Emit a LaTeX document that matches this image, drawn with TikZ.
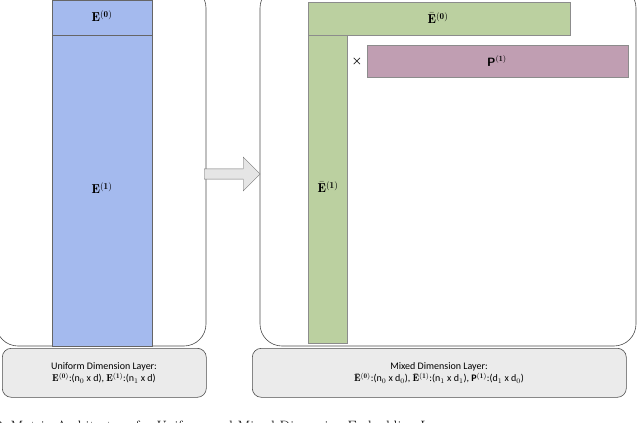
\documentclass[tikz,border=0pt]{standalone}
\usepackage{fontspec}
\usepackage{amsmath}
\newfontfamily\carl{Carlito}
\usetikzlibrary{shapes.arrows}
\begin{document}
\begin{tikzpicture}[x=1pt,y=-1pt,
 panel/.style={draw=black!70,rounded corners=22pt,line width=0.6pt},
 lab/.style={draw=black!70,fill=black!8,rounded corners=9pt,line width=0.6pt},
 big/.style={font=\fontsize{13}{14}\selectfont},
 txt/.style={font=\carl\fontsize{10}{12}\selectfont,align=center}]
\useasboundingbox (0,0) rectangle (640,423);
\begin{scope}
\clip (0,0) rectangle (640,423);
\draw[panel] (-4,-14) rectangle (206,346);
\draw[panel] (260,-14) rectangle (636,346);
\node[draw=black!60,fill={rgb,255:red,164;green,186;blue,238},minimum width=100pt,minimum height=346pt,anchor=north west,inner sep=0] (e1col) at (52,0) {};
\draw[black!60] (52,35) -- (152,35);
\node[big] (e0) at (102,16) {$\mathbf{E}^{\mathbf{(0)}}$};
\node[big] (e1) at (102,188) {$\mathbf{E}^{\mathbf{(1)}}$};
\node[single arrow,draw=black!55,fill=black!10,minimum height=56pt,minimum width=34pt,single arrow head extend=5pt,inner sep=2pt,anchor=tail] (arr) at (204,174) {};
\node[fill={rgb,255:red,187;green,208;blue,160},draw=black!45,minimum width=262pt,minimum height=33pt,anchor=north west,inner sep=0] (tb) at (308,2) {};
\node[fill={rgb,255:red,187;green,208;blue,160},draw=black!45,minimum width=39pt,minimum height=308pt,anchor=north west,inner sep=0] (vb) at (308,35) {};
\node[fill={rgb,255:red,192;green,158;blue,178},draw=black!45,minimum width=261pt,minimum height=32pt,anchor=north west,inner sep=0] (pb) at (367,45) {};
\node[big] (eb0) at (438,18) {$\bar{\mathbf{E}}^{\mathbf{(0)}}$};
\node[big] (eb1) at (328,187) {$\bar{\mathbf{E}}^{\mathbf{(1)}}$};
\node[font=\large] (x) at (357,61) {$\boldsymbol{\times}$};
\node[font=\sffamily\bfseries\large] (p1) at (497,61) {P$^{\mathbf{(1)}}$};
\node[lab,minimum width=204pt,minimum height=49pt,anchor=north west] (ul) at (2,348) {};
\node[txt] (ult) at (104,373) {Uniform Dimension Layer:\\ $\mathbf{E}^{\mathbf{(0)}}$:(n$_0$ x d), $\mathbf{E}^{\mathbf{(1)}}$:(n$_1$ x d)};
\node[lab,minimum width=374pt,minimum height=49pt,anchor=north west] (ml) at (252,348) {};
\node[txt] (mlt) at (439,373) {Mixed Dimension Layer:\\ $\bar{\mathbf{E}}^{\mathbf{(0)}}$:(n$_0$ x d$_0$), $\bar{\mathbf{E}}^{\mathbf{(1)}}$:(n$_1$ x d$_1$), \textbf{P}$^{\mathbf{(1)}}$:(d$_1$ x d$_0$)};
\node[anchor=west,font=\fontsize{15}{17}\selectfont] (cap) at (-8,428) {2:\ Matrix Architecture for Uniform and Mixed Dimension Embedding Layers};
\end{scope}
\end{tikzpicture}
\end{document}
